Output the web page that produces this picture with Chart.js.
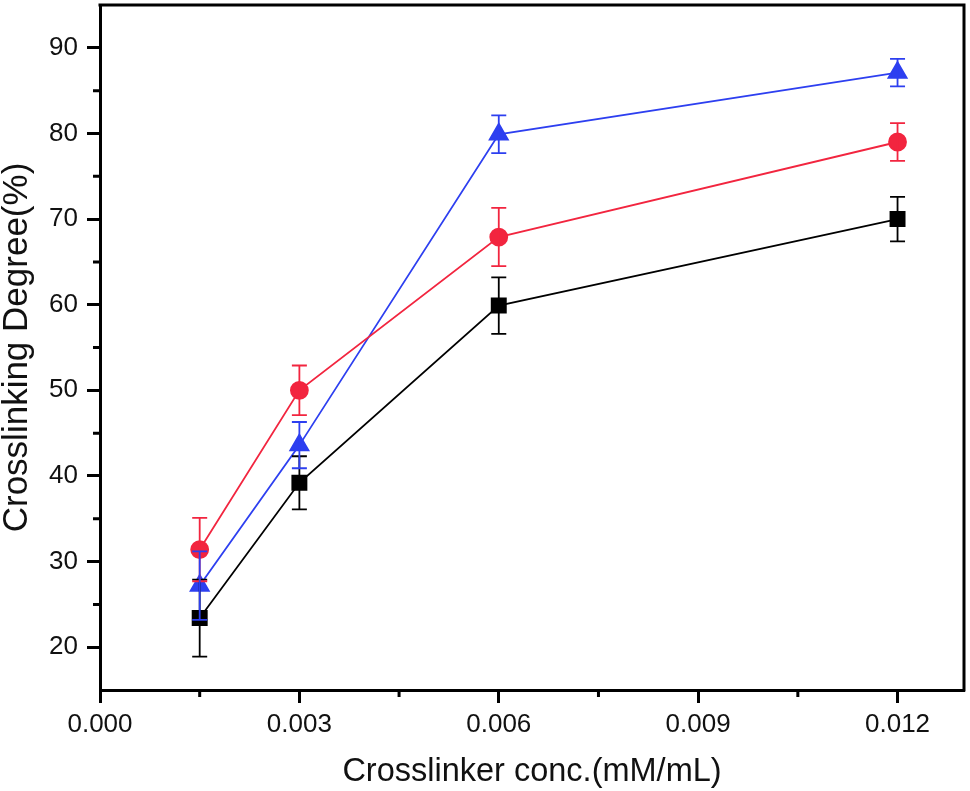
<!DOCTYPE html>
<html><head><meta charset="utf-8">
<script src="https://cdn.jsdelivr.net/npm/chart.js@4.4.1/dist/chart.umd.min.js"></script>
<style>html,body{margin:0;padding:0;background:#fff;} #wrap{width:970px;height:791px;position:relative;}</style>
</head><body><div id="wrap"><canvas id="c"></canvas></div>
<script>
const xValues = [0.0015, 0.003, 0.006, 0.012];
const blackValues = [23.4, 39.2, 59.9, 70.0];
const blackErrors = [4.5, 3.1, 3.3, 2.6];
const redValues = [31.4, 50.0, 67.9, 79.0];
const redErrors = [3.7, 2.9, 3.4, 2.2];
const blueValues = [27.2, 43.6, 79.9, 87.1];
const blueErrors = [4.0, 2.7, 2.2, 1.6];
const xTicks = [0, 0.003, 0.006, 0.009, 0.012];
const xMinorTicks = [0.0015, 0.0045, 0.0075, 0.0105];
const yTicks = [20, 30, 40, 50, 60, 70, 80, 90];
const yMinorTicks = [25, 35, 45, 55, 65, 75, 85];
const xTitle = 'Crosslinker conc.(mM/mL)';
const yTitle = 'Crosslinking Degree(%)';

const BLACK = '#000000', RED = '#F2253F', BLUE = '#2D3FF0';

function pts(vals){ return vals.map((v,i)=>({x:xValues[i], y:v})); }

const errorBars = {
  id: 'errorBars',
  afterDatasetsDraw(chart){
    const ctx = chart.ctx, xs = chart.scales.x, ys = chart.scales.y;
    chart.data.datasets.forEach((ds) => {
      ctx.save();
      ctx.strokeStyle = ds.borderColor;
      ctx.lineWidth = 1.8;
      ds.errors.forEach((e, i) => {
        const v = ds.data[i].y;
        const px = xs.getPixelForValue(ds.data[i].x);
        const top = ys.getPixelForValue(v + e), bot = ys.getPixelForValue(v - e);
        ctx.beginPath();
        ctx.moveTo(px, top); ctx.lineTo(px, bot);
        ctx.moveTo(px - 7.5, top); ctx.lineTo(px + 7.5, top);
        ctx.moveTo(px - 7.5, bot); ctx.lineTo(px + 7.5, bot);
        ctx.stroke();
      });
      ctx.restore();
    });
  }
};

const frame = {
  id: 'frame',
  afterDraw(chart){
    const ctx = chart.ctx, a = chart.chartArea, xs = chart.scales.x, ys = chart.scales.y;
    ctx.save();
    ctx.strokeStyle = '#000';
    ctx.lineWidth = 3;
    ctx.beginPath();
    ctx.moveTo(a.left - 1.5, a.top); ctx.lineTo(a.right, a.top); ctx.lineTo(a.right, a.bottom + 1.5);
    ctx.stroke();
    ctx.beginPath();
    xMinorTicks.forEach(t => { const p = xs.getPixelForValue(t); ctx.moveTo(p, a.bottom); ctx.lineTo(p, a.bottom + 7); });
    yMinorTicks.forEach(t => { const p = ys.getPixelForValue(t); ctx.moveTo(a.left, p); ctx.lineTo(a.left - 7, p); });
    ctx.stroke();
    ctx.restore();
  }
};

function fixFit(size, isX){
  return function(scale){
    if (isX) scale.height = size; else scale.width = size;
    scale.paddingTop = 0; scale.paddingBottom = 0; scale.paddingLeft = 0; scale.paddingRight = 0;
  };
}

new Chart(document.getElementById('c'), {
  type: 'line',
  data: {
    datasets: [
      { label: 'black', data: pts(blackValues), errors: blackErrors, borderColor: BLACK, backgroundColor: BLACK,
        pointStyle: 'rect', pointRadius: 10, borderWidth: 1.8 },
      { label: 'red', data: pts(redValues), errors: redErrors, borderColor: RED, backgroundColor: RED,
        pointStyle: 'circle', pointRadius: 8.5, borderWidth: 1.8 },
      { label: 'blue', data: pts(blueValues), errors: blueErrors, borderColor: BLUE, backgroundColor: BLUE,
        pointStyle: 'triangle', pointRadius: 10.5, borderWidth: 1.8 }
    ]
  },
  options: {
    responsive: true,
    maintainAspectRatio: false,
    animation: false,
    events: [],
    layout: { autoPadding: false, padding: { top: 5, right: 6, left: 0, bottom: 0 } },
    plugins: { legend: { display: false }, tooltip: { enabled: false } },
    elements: { point: { borderWidth: 0, hoverRadius: 0 }, line: { tension: 0 } },
    scales: {
      x: {
        type: 'linear', min: 0, max: 0.013,
        afterBuildTicks: s => { s.ticks = xTicks.map(v => ({value: v})); },
        afterFit: fixFit(101, true),
        grid: { display: true, drawOnChartArea: false, drawTicks: true, tickLength: 13, tickWidth: 3, tickColor: '#000' },
        border: { display: true, width: 3, color: '#000' },
        ticks: { color: '#111', padding: 6, maxRotation: 0, autoSkip: false,
          font: { family: '"Liberation Sans", Arial, sans-serif', size: 26 },
          callback: v => Number(v).toFixed(3) },
        title: { display: true, text: xTitle, color: '#111', padding: { top: 0, bottom: 3 },
          font: { family: '"Liberation Sans", Arial, sans-serif', size: 32.5, lineHeight: 1 } }
      },
      y: {
        type: 'linear', min: 15, max: 95,
        afterBuildTicks: s => { s.ticks = yTicks.map(v => ({value: v})); },
        afterFit: fixFit(100, false),
        grid: { display: true, drawOnChartArea: false, drawTicks: true, tickLength: 13, tickWidth: 3, tickColor: '#000' },
        border: { display: true, width: 3, color: '#000' },
        ticks: { color: '#111', padding: 9, autoSkip: false,
          font: { family: '"Liberation Sans", Arial, sans-serif', size: 26 } },
        title: { display: true, text: yTitle, color: '#111', padding: { top: 0, bottom: 0 },
          font: { family: '"Liberation Sans", Arial, sans-serif', size: 35, lineHeight: 1 } }
      }
    }
  },
  plugins: [errorBars, frame]
});
</script>
</body></html>
